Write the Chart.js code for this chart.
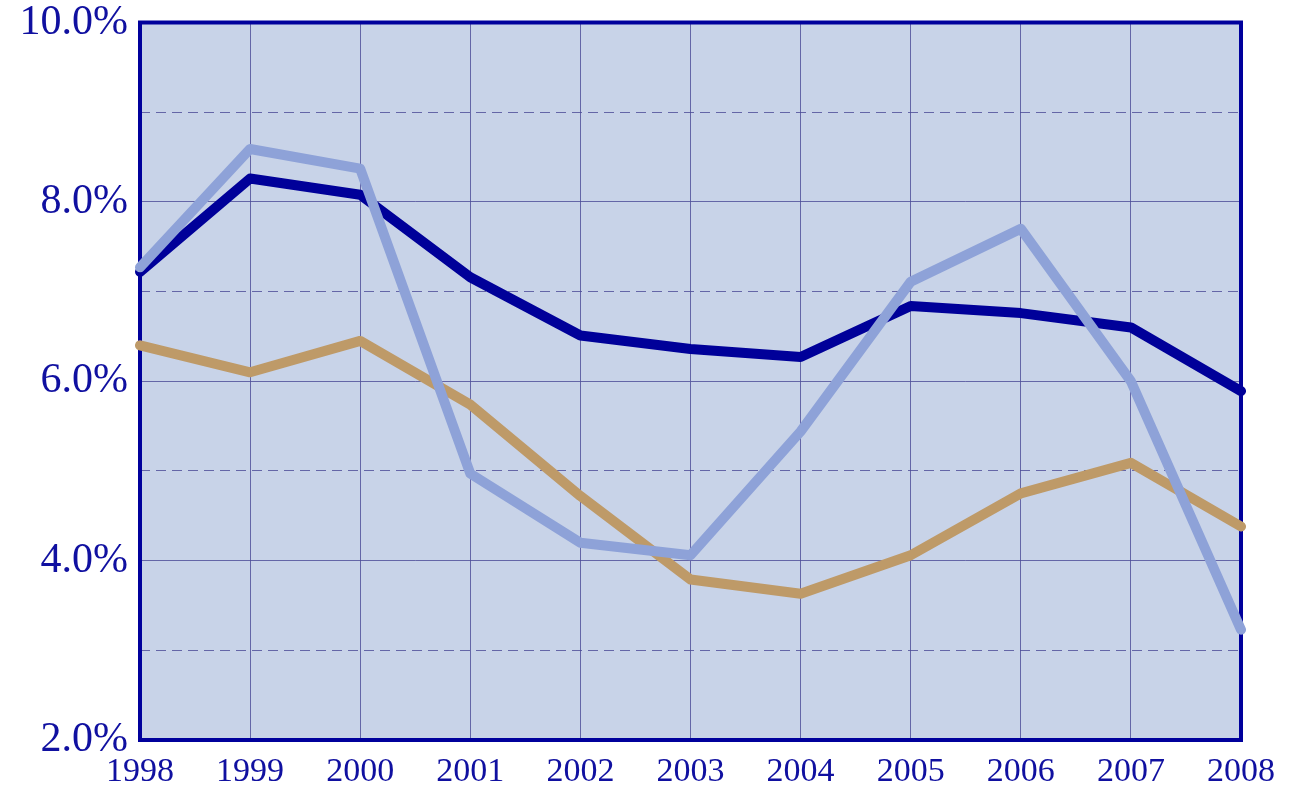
<!DOCTYPE html>
<html>
<head>
<meta charset="utf-8">
<script src="https://cdn.jsdelivr.net/npm/chart.js@4/dist/chart.umd.min.js"></script>
<style>
html,body{margin:0;padding:0;background:#fff;}
#wrap{width:1295px;height:786px;position:relative;}
</style>
</head>
<body>
<div id="wrap"><canvas id="c" width="1295" height="786"></canvas></div>
<script>
const years = ['1998','1999','2000','2001','2002','2003','2004','2005','2006','2007','2008'];
const seriesNavy = [7.22, 8.26, 8.08, 7.16, 6.51, 6.36, 6.27, 6.84, 6.76, 6.60, 5.89];
const seriesLight = [7.27, 8.59, 8.37, 4.97, 4.20, 4.06, 5.44, 7.11, 7.70, 6.00, 3.23];
const seriesTan = [6.40, 6.10, 6.45, 5.74, 4.72, 3.79, 3.63, 4.06, 4.75, 5.09, 4.38];
const yMin = 2, yMax = 10;

const textColor = '#1010a0';
const gridColor = 'rgba(75,75,150,0.8)';
const frameColor = '#00009c';

const bgPlugin = {
  id: 'bg',
  beforeDraw(chart) {
    const a = chart.chartArea, ctx = chart.ctx;
    ctx.save();
    ctx.fillStyle = '#c8d3e8';
    ctx.fillRect(a.left, a.top, a.right - a.left, a.bottom - a.top);
    ctx.restore();
  },
  beforeDatasetsDraw(chart) {
    const a = chart.chartArea, ctx = chart.ctx;
    ctx.save();
    ctx.strokeStyle = frameColor;
    ctx.lineWidth = 4;
    ctx.strokeRect(a.left, a.top, a.right - a.left, a.bottom - a.top);
    ctx.restore();
  }
};

new Chart(document.getElementById('c'), {
  type: 'line',
  data: {
    labels: years,
    datasets: [
      { data: seriesLight, borderColor: '#8ea2d8', borderWidth: 10, pointRadius: 0, tension: 0, borderCapStyle: 'round', borderJoinStyle: 'round' },
      { data: seriesNavy, borderColor: '#000099', borderWidth: 10, pointRadius: 0, tension: 0, borderCapStyle: 'round', borderJoinStyle: 'round' },
      { data: seriesTan, borderColor: '#be9a68', borderWidth: 10, pointRadius: 0, tension: 0, borderCapStyle: 'round', borderJoinStyle: 'round' }
    ]
  },
  options: {
    responsive: false,
    animation: false,
    events: [],
    layout: { padding: { left: 0, right: 54, top: 13, bottom: 0 } },
    plugins: { legend: { display: false }, tooltip: { enabled: false }, title: { display: false } },
    scales: {
      x: {
        grid: { color: gridColor, lineWidth: 1, drawTicks: false },
        border: { display: false },
        ticks: { color: textColor, padding: 12, maxRotation: 0, autoSkip: false,
                 font: { family: '"Liberation Serif", "Times New Roman", serif', size: 34 } },
        afterFit(s) { s.height = 46; }
      },
      y: {
        min: yMin, max: yMax,
        grid: { color: gridColor, lineWidth: 1, drawTicks: false },
        border: { display: false },
        ticks: { stepSize: 2, color: textColor, padding: 12,
                 callback: v => v.toFixed(1) + '%',
                 font: { family: '"Liberation Serif", "Times New Roman", serif', size: 42, lineHeight: 0.5 } },
        afterFit(s) { s.width = 140; }
      },
      y2: {
        position: 'left',
        min: yMin, max: yMax,
        display: true,
        grid: { drawTicks: false, lineWidth: 1,
                color: ctx => (Math.round(ctx.tick.value) % 2 === 1 ? gridColor : 'rgba(0,0,0,0)') },
        border: { display: false, dash: [10, 6] },
        ticks: { stepSize: 1, display: false },
        afterFit(s) { s.width = 0; }
      }
    }
  },
  plugins: [bgPlugin]
});
</script>
</body>
</html>
